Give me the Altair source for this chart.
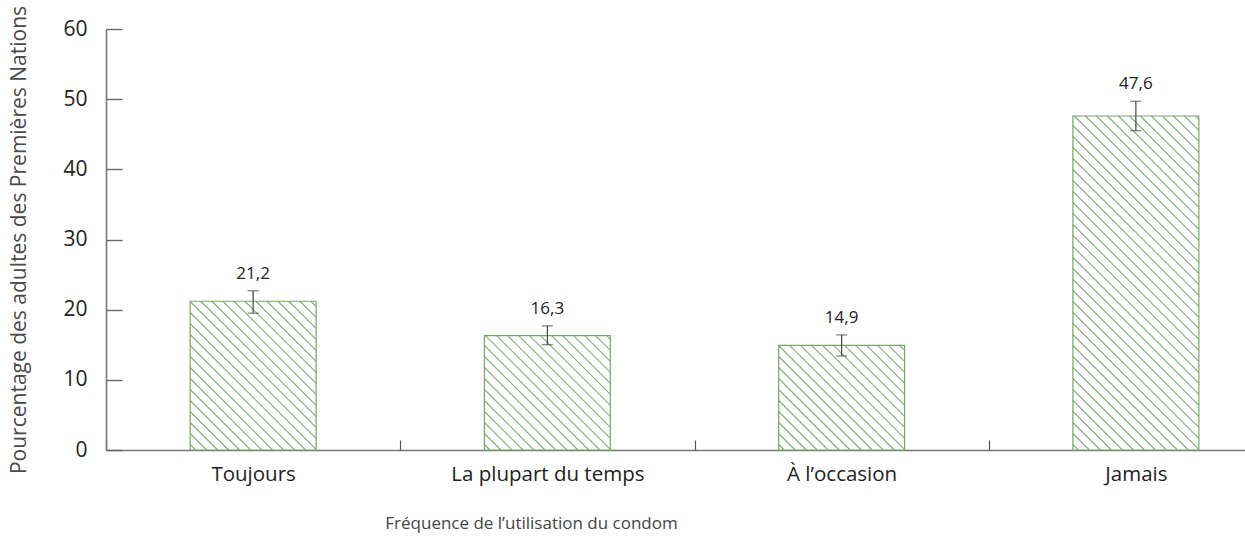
import altair as alt
import pandas as pd

categories = ["Toujours", "La plupart du temps", "À l’occasion", "Jamais"]
values = [21.2, 16.3, 14.9, 47.6]
lower = [19.5, 15.0, 13.4, 45.5]
upper = [22.7, 17.7, 16.4, 49.7]

df = pd.DataFrame({
    "cat": categories,
    "idx": list(range(len(categories))),
    "value": values,
    "lo": lower,
    "hi": upper,
})

W = 1139          # visible plot width
RANGE = 1177      # full x range (chart is cut at right edge)
H = 421
SX = RANGE / 4.0
SY = H / 60.0
BW = 0.428        # bar width in band units
SP = 11.0         # hatch spacing (px, horizontal)
GREEN = "#7aa367"
FONT = "Open Sans"

label_expr = ("datum.value == 0.5 ? '%s' : datum.value == 1.5 ? '%s' : "
              "datum.value == 2.5 ? '%s' : datum.value == 3.5 ? '%s' : ''") % tuple(categories)

xscale = alt.Scale(domain=[0, 4], range=[0, RANGE], nice=False, zero=False)
yscale = alt.Scale(domain=[0, 60], nice=False)

base = alt.Chart(df).transform_calculate(
    xc="datum.idx + 0.5",
    x0="datum.idx + 0.5 - %f" % (BW / 2),
    x1="datum.idx + 0.5 + %f" % (BW / 2),
)

x_axis = alt.Axis(
    orient="bottom", values=[0.5, 1.5, 2.5, 3.5], labelExpr=label_expr,
    ticks=False, domain=True, domainColor="#777777", domainWidth=1.6,
    labelFontSize=20.5, labelColor="#222222", labelFont=FONT, labelPadding=14,
    labelLimit=500, grid=False,
    title="Fréquence de l’utilisation du condom", titleFont=FONT,
    titleFontSize=17, titleFontWeight="normal", titleColor="#444444",
    titleX=425, titleY=73, titleBaseline="middle",
)

y_axis = alt.Axis(
    orient="left", values=[0, 10, 20, 30, 40, 50, 60], ticks=False,
    domain=True, domainColor="#777777", domainWidth=1.6,
    labelFontSize=21, labelColor="#222222", labelFont=FONT, labelPadding=19,
    grid=False,
    title="Pourcentage des adultes des Premières Nations", titleFont=FONT,
    titleFontSize=21, titleFontWeight="normal", titleColor="#4a4a4a",
    titleX=-87, titleY=H / 2, titleBaseline="middle", titleAngle=270,
    titleLimit=600,
)

bars = base.mark_bar(fill="white", strokeWidth=0).encode(
    x=alt.X("x0:Q", scale=xscale, axis=x_axis),
    x2="x1:Q",
    y=alt.Y("value:Q", scale=yscale, axis=y_axis),
    y2=alt.datum(0),
)

hatch = base.transform_calculate(
    k="sequence(0, 50)"
).transform_flatten(["k"]).transform_calculate(
    hpx="datum.value * %f" % SY,
    wpx="%f" % (BW * SX),
    c="(datum.k + 0.5) * %f" % SP,
).transform_filter(
    "datum.c < datum.wpx + datum.hpx"
).transform_calculate(
    a_s="max(0, datum.c - datum.hpx)",
    a_e="min(datum.wpx, datum.c)",
).transform_calculate(
    hx0="datum.x0 + datum.a_s / %f" % SX,
    hy0="(datum.c - datum.a_s) / %f" % SY,
    hx1="datum.x0 + datum.a_e / %f" % SX,
    hy1="(datum.c - datum.a_e) / %f" % SY,
).mark_rule(color=GREEN, strokeWidth=1.1, opacity=0.9).encode(
    x=alt.X("hx0:Q", scale=xscale,
            axis=alt.Axis(orient="top", offset=-H, values=[0, 1, 2, 3, 4], labels=False,
                          domain=False, ticks=True, tickSize=10, tickColor="#555555",
                          tickWidth=1.2, grid=False, title=None)),
    x2="hx1:Q",
    y=alt.Y("hy0:Q", scale=yscale,
            axis=alt.Axis(orient="right", offset=-W, values=[0, 10, 20, 30, 40, 50, 60],
                          labels=False, domain=False, ticks=True, tickSize=16,
                          tickColor="#666666", tickWidth=1.4, grid=False, title=None)),
    y2="hy1:Q",
)

outline = base.mark_bar(fill=None, fillOpacity=0, stroke=GREEN, strokeWidth=1.2).encode(
    x=alt.X("x0:Q", scale=xscale, axis=None),
    x2="x1:Q",
    y=alt.Y("value:Q", scale=yscale, axis=None),
    y2=alt.datum(0),
)

err = base.mark_rule(color="#444444", strokeWidth=1.2).encode(
    x=alt.X("xc:Q", scale=xscale, axis=None),
    y=alt.Y("lo:Q", scale=yscale, axis=None),
    y2="hi:Q",
)

caps = base.transform_fold(["lo", "hi"], as_=["end", "ev"]).mark_tick(
    color="#444444", orient="horizontal", size=11, thickness=1.2
).encode(
    x=alt.X("xc:Q", scale=xscale, axis=None),
    y=alt.Y("ev:Q", scale=yscale, axis=None),
)

labels = base.transform_calculate(
    lab="replace(format(datum.value, '.1f'), '.', ',')"
).mark_text(font=FONT, fontSize=17, color="#222222", dy=-12, baseline="alphabetic").encode(
    x=alt.X("xc:Q", scale=xscale, axis=None),
    y=alt.Y("hi:Q", scale=yscale, axis=None),
    text="lab:N",
)

chart = alt.layer(bars, hatch, outline, err, caps, labels).resolve_axis(
    x="independent", y="independent"
).properties(
    width=W, height=H,
    autosize=alt.AutoSizeParams(type="none"),
    padding={"left": 106, "top": 29, "right": 0, "bottom": 89},
).configure_view(stroke=None)

chart.save("out.html", embed_options={"renderer": "svg", "actions": False})
